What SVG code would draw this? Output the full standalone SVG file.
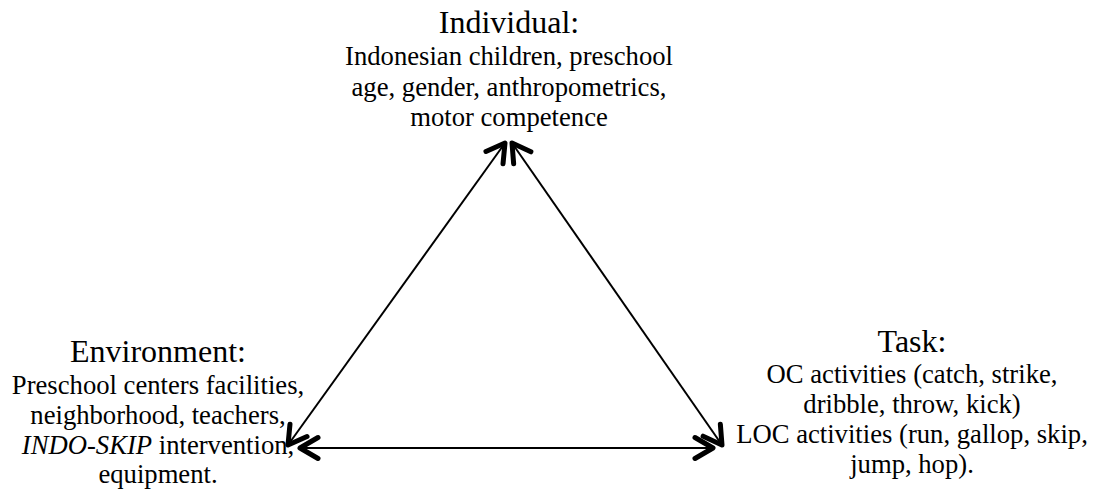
<svg xmlns="http://www.w3.org/2000/svg" width="1096" height="491" viewBox="0 0 1096 491">
<style>
text{fill:#000;text-anchor:middle}
.t{font-size:32px}
.b{font-size:26.67px}
.c{stroke:#000;stroke-width:2;fill:none}
</style>
<defs>
<marker id="ah" markerUnits="userSpaceOnUse" viewBox="-24 -15 28 30" refX="0" refY="0" markerWidth="28" markerHeight="30" orient="auto-start-reverse">
<path d="M-18,-10.5 L0,0 L-18,10.5" fill="none" stroke="#000" stroke-width="5" stroke-linecap="round" stroke-linejoin="round"/>
</marker>
</defs>
<rect width="1096" height="491" fill="#fff"/>
<g id="connectors">
<line class="c" x1="505" y1="143" x2="288" y2="445" marker-start="url(#ah)" marker-end="url(#ah)"/>
<line class="c" x1="512" y1="143" x2="722" y2="445" marker-start="url(#ah)" marker-end="url(#ah)"/>
<line class="c" x1="300" y1="448" x2="713" y2="448" marker-start="url(#ah)" marker-end="url(#ah)"/>
</g>
<g id="individual" font-family="'Liberation Serif', 'Times New Roman', serif">
<text class="t" x="509" y="33">Individual:</text>
<text class="b" x="509" y="65">Indonesian children, preschool</text>
<text class="b" x="509" y="95.5">age, gender, anthropometrics,</text>
<text class="b" x="509" y="126">motor competence</text>
</g>
<g id="environment" font-family="'Liberation Serif', 'Times New Roman', serif">
<text class="t" x="158" y="362">Environment:</text>
<text class="b" x="158" y="394">Preschool centers facilities,</text>
<text class="b" x="158" y="424">neighborhood, teachers,</text>
<text class="b" x="158" y="454"><tspan font-style="italic">INDO-SKIP</tspan> intervention,</text>
<text class="b" x="158" y="483">equipment.</text>
</g>
<g id="task" font-family="'Liberation Serif', 'Times New Roman', serif">
<text class="t" x="912" y="352">Task:</text>
<text class="b" x="912" y="383">OC activities (catch, strike,</text>
<text class="b" x="912" y="413">dribble, throw, kick)</text>
<text class="b" x="912" y="443">LOC activities (run, gallop, skip,</text>
<text class="b" x="912" y="473">jump, hop).</text>
</g>
</svg>
